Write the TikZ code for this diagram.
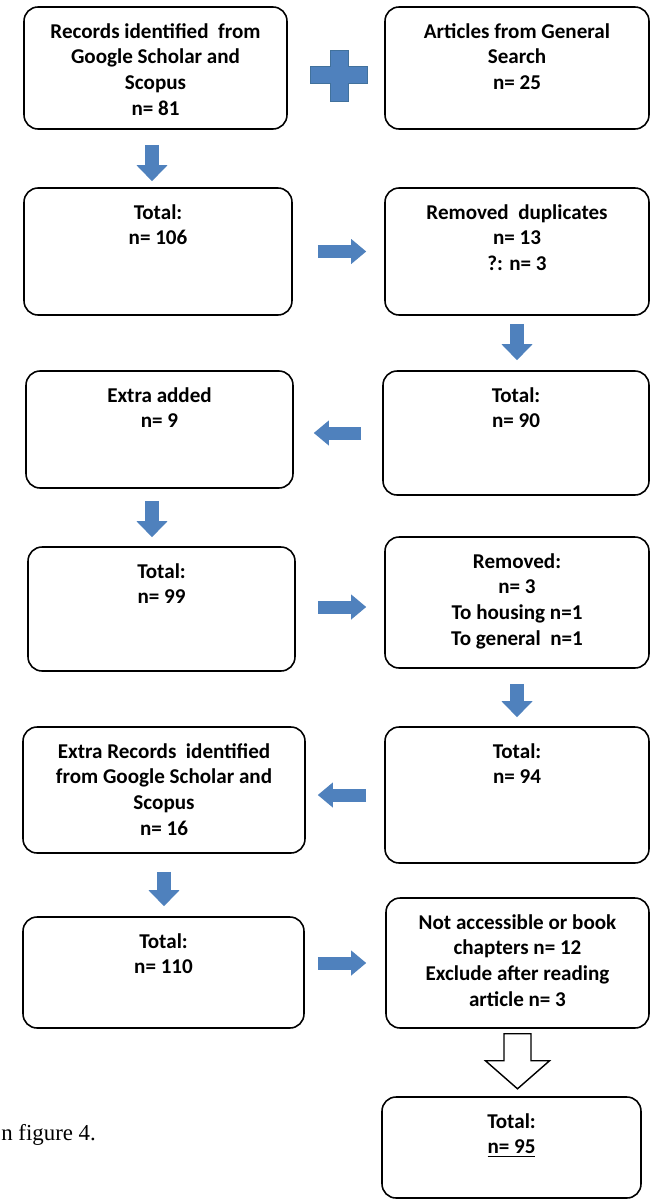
\documentclass[tikz,border=0pt]{standalone}
\usepackage{fontspec}
\setmainfont{Carlito}
\newfontfamily\serifpart{Liberation Serif}
\usetikzlibrary{arrows.meta}

\definecolor{arrowblue}{HTML}{4F81BD}
\definecolor{arrowedge}{HTML}{41719C}

\newcommand{\boxbody}[3]{\parbox[c][#2][t]{#1}{\centering\vspace*{7.5pt}\strut #3}}

\tikzset{
	flowbox/.style={draw=black, line width=0.9pt, rounded corners=0.28cm, inner sep=0pt,
		font=\fontsize{12pt}{14.6pt}\selectfont\bfseries},
	blockarrow/.style={draw=arrowblue, line width=0.28cm,
		-{Triangle[width=0.6cm, length=0.32cm, color=arrowblue, fill=arrowblue]}},
	sidearrow/.style={draw=arrowblue, line width=0.26cm,
		-{Triangle[width=0.48cm, length=0.3cm, color=arrowblue, fill=arrowblue]}},
}

\begin{document}
\begin{tikzpicture}[x=0.02cm, y=-0.02cm]
	\useasboundingbox (0, 0) rectangle (650, 1200);

	\node[flowbox] (rec) at (155.5, 68)     {\boxbody{5.26cm}{2.44cm}{Records identified\ \ from\\Google Scholar and\\Scopus\\n= 81}};
	\node[flowbox] (gen) at (517, 68)     {\boxbody{5.28cm}{2.44cm}{Articles from General\\Search\\n= 25}};
	\node[flowbox] (tot1) at (158, 251.5)     {\boxbody{5.36cm}{2.54cm}{Total:\\n= 106}};
	\node[flowbox] (dup) at (517, 251.5)     {\boxbody{5.28cm}{2.54cm}{Removed\ \ duplicates\\n= 13\\?: n= 3}};
	\node[flowbox] (tot2) at (516, 433)     {\boxbody{5.32cm}{2.48cm}{Total:\\n= 90}};
	\node[flowbox] (extra) at (159.5, 429.5)     {\boxbody{5.34cm}{2.34cm}{Extra added\\n= 9}};
	\node[flowbox] (tot3) at (161.5, 609)     {\boxbody{5.34cm}{2.48cm}{Total:\\n= 99}};
	\node[flowbox] (rem) at (517, 602.5)     {\boxbody{5.28cm}{2.62cm}{Removed:\\n= 3\\To housing n=1\\To general\ \ n=1}};
	\node[flowbox] (tot4) at (517, 795)     {\boxbody{5.28cm}{2.72cm}{Total:\\n= 94}};
	\node[flowbox] (extrarec) at (164, 790)     {\boxbody{5.64cm}{2.52cm}{Extra Records\ \ identified\\from Google Scholar and\\Scopus\\n= 16}};
	\node[flowbox] (tot5) at (163.5, 972.5)     {\boxbody{5.62cm}{2.22cm}{Total:\\n= 110}};
	\node[flowbox] (nacc) at (517.5, 963)     {\boxbody{5.26cm}{2.60cm}{Not accessible or book\\chapters n= 12\\Exclude after reading\\article n= 3}};
	\node[flowbox] (tot6) at (511.5, 1147.5)     {\boxbody{5.18cm}{2.02cm}{Total:\\\underline{n= 95}}};
	\node[font=\serifpart\fontsize{13pt}{15pt}\selectfont, anchor=base west, inner sep=0pt] (fig) at (1, 1140)     {n figure 4.};

	\filldraw[fill=arrowblue, draw=arrowedge, line width=0.4pt] (330, 50) -- (348, 50) -- (348, 66) -- (367, 66) -- (367, 83) -- (348, 83) -- (348, 101) -- (330, 101) -- (330, 83) -- (310, 83) -- (310, 66) -- (330, 66) -- cycle;

	\draw[blockarrow, shorten <=0.3cm, shorten >=0.12cm] ([xshift=-0.07cm]rec.south) -- ([xshift=-0.07cm]rec.south |- tot1.north);
	\draw[sidearrow, shorten <=0.5cm, shorten >=0.36cm] (tot1.east) -- (tot1.east -| dup.west);
	\draw[blockarrow, shorten <=0.16cm, shorten >=0.2cm] (dup.south) -- (dup.south |- tot2.north);
	\draw[sidearrow, shorten <=0.42cm, shorten >=0.4cm] (tot2.west) -- (tot2.west -| extra.east);
	\draw[blockarrow, shorten <=0.24cm, shorten >=0.18cm] ([xshift=-0.15cm]extra.south) -- ([xshift=-0.15cm]extra.south |- tot3.north);
	\draw[sidearrow, shorten <=0.44cm, shorten >=0.36cm] ([yshift=0.04cm]tot3.east) -- ([yshift=0.04cm]tot3.east -| rem.west);
	\draw[blockarrow, shorten <=0.3cm, shorten >=0.18cm] (rem.south) -- (rem.south |- tot4.north);
	\draw[sidearrow, shorten <=0.36cm, shorten >=0.24cm] (tot4.west) -- (tot4.west -| extrarec.east);
	\draw[blockarrow, shorten <=0.36cm, shorten >=0.2cm] (extrarec.south) -- (extrarec.south |- tot5.north);
	\draw[sidearrow, shorten <=0.26cm, shorten >=0.38cm] (tot5.east |- nacc.west) -- (nacc.west);

	\begin{scope}[shift={(nacc.south)}]
		\draw[line width=0.8pt, fill=white] (-13.5, 5) -- (13.5, 5) -- (13.5, 32) -- (32, 32) -- (0, 60) -- (-32, 32) -- (-13.5, 32) -- cycle;
	\end{scope}

\end{tikzpicture}
\end{document}
